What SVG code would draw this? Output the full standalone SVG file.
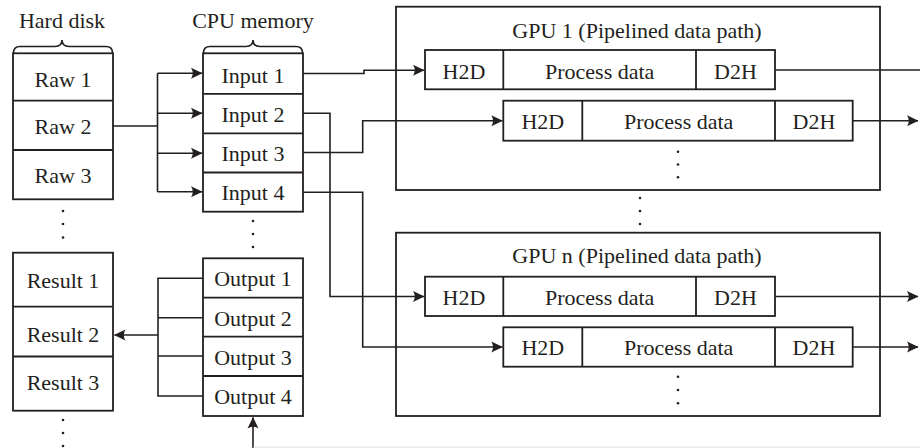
<svg xmlns="http://www.w3.org/2000/svg" width="920" height="448" viewBox="0 0 920 448">
<defs>
<style>
text{font-family:"Liberation Serif","Times New Roman",serif;font-size:22px;fill:#231f20;text-anchor:middle}
.box{fill:#fff;stroke:#231f20;stroke-width:1.8}
.div{stroke:#231f20;stroke-width:1.8;fill:none}
.ln{stroke:#231f20;stroke-width:1.6;fill:none}
.arr{marker-end:url(#ah)}
.dot{fill:#231f20}
</style>
<marker id="ah" markerUnits="userSpaceOnUse" viewBox="-12 -7 13 14" refX="0" refY="0" markerWidth="13" markerHeight="14" orient="auto">
<path d="M0.5,0 L-11,-5.5 Q-7.5,0 -11,5.5 Z" fill="#231f20"/>
</marker>
</defs>

<g id="hard-disk-label">
<text x="62" y="28">Hard disk</text>
<path class="ln" d="M13.5,53 Q13.5,46.5 20,46.5 H55 Q62,46.5 62,40 Q62,46.5 69,46.5 H106 Q112.5,46.5 112.5,53"/>
</g>
<g id="raw">
<rect class="box" x="13" y="53.3" width="100" height="146"/>
<path class="div" d="M13,100.7 H113 M13,150 H113"/>
<text x="63" y="86.7">Raw 1</text>
<text x="63" y="133.5">Raw 2</text>
<text x="63" y="182.7">Raw 3</text>
<circle class="dot" cx="63" cy="211" r="1.3"/>
<circle class="dot" cx="63" cy="224" r="1.3"/>
<circle class="dot" cx="63" cy="237.5" r="1.3"/>
</g>

<g id="cpu-memory-label">
<text x="253" y="28">CPU memory</text>
<path class="ln" d="M203.5,53 Q203.5,46.5 210,46.5 H246 Q253,46.5 253,40 Q253,46.5 260,46.5 H296 Q302.5,46.5 302.5,53"/>
</g>
<g id="inputs">
<rect class="box" x="203" y="53.3" width="100" height="158.4"/>
<path class="div" d="M203,93.8 H303 M203,133.3 H303 M203,172.5 H303"/>
<text x="253" y="82.7">Input 1</text>
<text x="253" y="121.8">Input 2</text>
<text x="253" y="160.5">Input 3</text>
<text x="253" y="199.5">Input 4</text>
<circle class="dot" cx="253" cy="221" r="1.3"/>
<circle class="dot" cx="253" cy="234" r="1.3"/>
<circle class="dot" cx="253" cy="247" r="1.3"/>
</g>

<g id="results">
<rect class="box" x="13" y="252.7" width="100" height="158"/>
<path class="div" d="M13,306.7 H113 M13,356.5 H113"/>
<text x="63" y="288.3">Result 1</text>
<text x="63" y="341.7">Result 2</text>
<text x="63" y="390.3">Result 3</text>
<circle class="dot" cx="63" cy="420" r="1.3"/>
<circle class="dot" cx="63" cy="433" r="1.3"/>
<circle class="dot" cx="63" cy="446" r="1.3"/>
</g>

<g id="outputs">
<rect class="box" x="203" y="258.3" width="100" height="157.7"/>
<path class="div" d="M203,297.7 H303 M203,336.7 H303 M203,376 H303"/>
<text x="253" y="286">Output 1</text>
<text x="253" y="325.5">Output 2</text>
<text x="253" y="364.5">Output 3</text>
<text x="253" y="403.5">Output 4</text>
</g>

<g id="gpu1">
<rect class="box" x="396" y="6.7" width="484" height="183.3"/>
<text x="637" y="37.5">GPU 1 (Pipelined data path)</text>
<rect class="box" x="425" y="50" width="350" height="39.3"/>
<path class="div" d="M503.3,50 V89.3 M696,50 V89.3"/>
<text x="464" y="78.5">H2D</text>
<text x="599.7" y="78.5">Process data</text>
<text x="735.5" y="78.5">D2H</text>
<rect class="box" x="503.3" y="100.7" width="349.4" height="40"/>
<path class="div" d="M582.3,100.7 V140.7 M775,100.7 V140.7"/>
<text x="542.8" y="128.8">H2D</text>
<text x="678.7" y="128.8">Process data</text>
<text x="813.9" y="128.8">D2H</text>
<circle class="dot" cx="678" cy="151.7" r="1.3"/>
<circle class="dot" cx="678" cy="164.5" r="1.3"/>
<circle class="dot" cx="678" cy="177.3" r="1.3"/>
</g>

<g id="gpu-dots">
<circle class="dot" cx="640" cy="198" r="1.3"/>
<circle class="dot" cx="640" cy="211" r="1.3"/>
<circle class="dot" cx="640" cy="224" r="1.3"/>
</g>

<g id="gpun">
<rect class="box" x="396" y="232.7" width="484" height="183.3"/>
<text x="637" y="263.3">GPU n (Pipelined data path)</text>
<rect class="box" x="425" y="276.7" width="350" height="39.3"/>
<path class="div" d="M503.3,276.7 V316 M696,276.7 V316"/>
<text x="464" y="304.5">H2D</text>
<text x="599.7" y="304.5">Process data</text>
<text x="735.5" y="304.5">D2H</text>
<rect class="box" x="503.3" y="327.3" width="349.4" height="39.4"/>
<path class="div" d="M582.3,327.3 V366.7 M775,327.3 V366.7"/>
<text x="542.8" y="354.8">H2D</text>
<text x="678.7" y="354.8">Process data</text>
<text x="813.9" y="354.8">D2H</text>
<circle class="dot" cx="678" cy="376.7" r="1.3"/>
<circle class="dot" cx="678" cy="390" r="1.3"/>
<circle class="dot" cx="678" cy="403.3" r="1.3"/>
</g>

<g id="connectors">
<path class="ln" d="M113,126 H157.5 M157.5,73.3 V191.7"/>
<path class="ln arr" d="M157.5,73.3 H202"/>
<path class="ln arr" d="M157.5,113.3 H202"/>
<path class="ln arr" d="M157.5,153.3 H202"/>
<path class="ln arr" d="M157.5,191.7 H202"/>
<path class="ln arr" d="M303,73.5 H364 V70.3 H424"/>
<path class="ln arr" d="M303,113.3 H330 V296.5 H424"/>
<path class="ln arr" d="M303,152.5 H362.7 V120.7 H502.3"/>
<path class="ln arr" d="M303,192.3 H362.7 V347 H502.3"/>
<path class="ln" d="M775,70 H920"/>
<path class="ln arr" d="M852.7,120.7 H918"/>
<path class="ln arr" d="M775,296.5 H918"/>
<path class="ln arr" d="M852.7,347 H918"/>
<path class="ln" d="M203,278.3 H158 V396 H203 M158,317.7 H203 M158,356 H203"/>
<path class="ln arr" d="M158,335 H114.5"/>
<path class="ln arr" d="M253,448 V417.5"/>
<path d="M253.5,447.2 H920" stroke="#e4e4e4" stroke-width="1.2" fill="none"/>
</g>
</svg>
